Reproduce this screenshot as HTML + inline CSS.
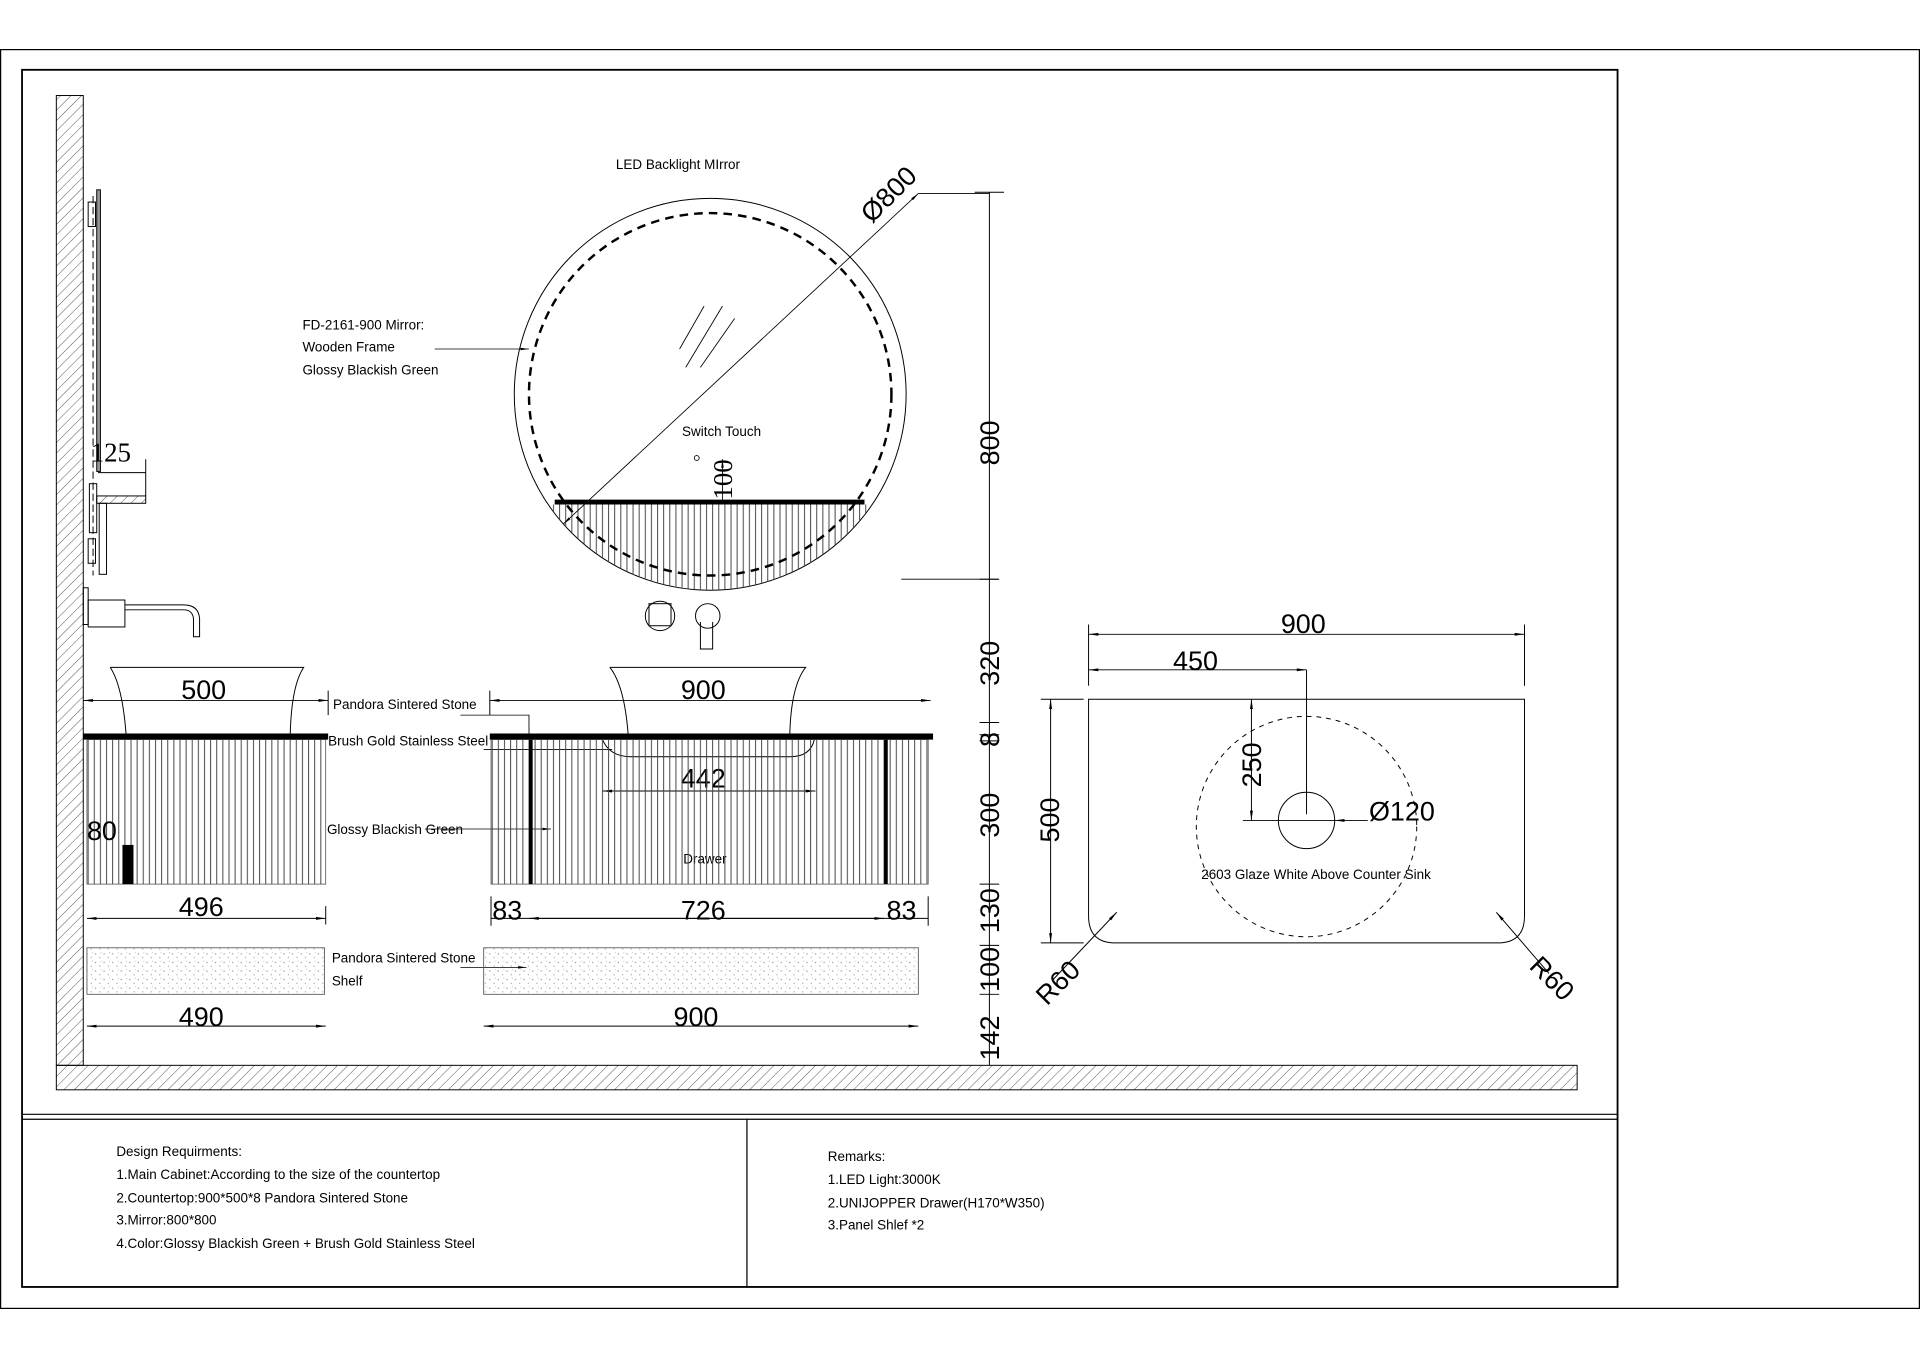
<!DOCTYPE html>
<html><head><meta charset="utf-8"><style>
html,body{margin:0;padding:0;background:#fff;}
svg{display:block;}
text{font-family:"Liberation Sans",sans-serif;fill:#000;}
.s{font-size:11px;}
.d{font-size:22px;}
</style></head><body>
<svg width="1920" height="1358" viewBox="0 0 1568 1109" xmlns="http://www.w3.org/2000/svg">
<defs>
<pattern id="h" width="6" height="6" patternUnits="userSpaceOnUse" patternTransform="rotate(45)"><line x1="0" y1="0" x2="0" y2="6" stroke="#555" stroke-width="0.8"/></pattern>
<pattern id="v" width="5" height="10" patternUnits="userSpaceOnUse"><line x1="2" y1="0" x2="2" y2="10" stroke="#444" stroke-width="0.8"/></pattern>
<pattern id="sp" width="7" height="7" patternUnits="userSpaceOnUse"><circle cx="1" cy="2" r="0.5" fill="#888"/><circle cx="4.5" cy="5" r="0.5" fill="#999"/><circle cx="5.5" cy="1" r="0.4" fill="#aaa"/></pattern>
<marker id="a" markerWidth="10" markerHeight="6" refX="10" refY="3" orient="auto-start-reverse"><path d="M0,1.5 L10,3 L0,4.5z" fill="#000"/></marker>
<clipPath id="cc"><circle cx="580" cy="322" r="160"/></clipPath>
</defs>
<g fill="none" stroke="#000">
<rect x="0.5" y="40.5" width="1567" height="1028" stroke-width="1"/>
<rect x="18" y="57" width="1303" height="994" stroke-width="1.5"/>
<line x1="18" y1="910" x2="1321" y2="910"/><line x1="18" y1="914" x2="1321" y2="914"/>
<line x1="610" y1="914" x2="610" y2="1051"/>
</g>
<!-- wall & floor -->
<rect x="46" y="78" width="22" height="792" fill="url(#h)" stroke="#000" stroke-width="0.8"/>
<rect x="46" y="870" width="1242" height="20" fill="url(#h)" stroke="#000" stroke-width="0.8"/>
<!-- side mirror -->
<g stroke="#000" fill="none" stroke-width="0.8">
<rect x="79" y="155" width="3" height="230" fill="#999"/>
<line x1="76" y1="160" x2="76" y2="470" stroke-dasharray="6 3"/>
<rect x="72" y="165" width="6" height="20"/><rect x="72" y="440" width="6" height="20"/>
<rect x="79" y="405" width="40" height="6" fill="url(#h)"/>
<rect x="81" y="411" width="6" height="58"/>
<rect x="73" y="395" width="6" height="40"/>
<line x1="119" y1="375" x2="119" y2="405"/>
<line x1="80" y1="386" x2="119" y2="386"/>
<rect x="68" y="480" width="4" height="30"/><rect x="72" y="490" width="30" height="22"/>
<path d="M102 494 H150 Q162 494 163 505 V520 H158 V505 Q157 498 150 498 H102"/>
<!-- left basin -->
<path d="M90 545 H248 Q238 560 237 600 M90 545 Q100 560 103 600"/>
<line x1="68" y1="572" x2="268" y2="572" marker-start="url(#a)" marker-end="url(#a)"/>
<line x1="268" y1="564" x2="268" y2="584"/>
</g>
<text x="148" y="571" class="d">500</text>
<text x="74" y="377" class="d" style="font-family:'Liberation Serif',serif">125</text>
<!-- left cabinet -->
<rect x="68" y="599" width="200" height="5" fill="#000"/>
<rect x="71" y="604" width="195" height="118" fill="url(#v)" stroke="#444" stroke-width="0.6"/>
<rect x="100" y="690" width="9" height="32" fill="#000"/>
<text x="71" y="686" class="d">80</text>
<g stroke="#000" stroke-width="0.8">
<line x1="71" y1="750" x2="266" y2="750" marker-start="url(#a)" marker-end="url(#a)"/>
<line x1="266" y1="740" x2="266" y2="755"/>
<line x1="71" y1="838" x2="266" y2="838" marker-start="url(#a)" marker-end="url(#a)"/>
</g>
<text x="146" y="748" class="d">496</text>
<rect x="71" y="774" width="194" height="38" fill="url(#sp)" stroke="#555" stroke-width="0.7"/>
<text x="146" y="838" class="d">490</text>
<!-- labels middle -->
<text x="272" y="579" class="s">Pandora Sintered Stone</text>
<text x="268" y="609" class="s">Brush Gold Stainless Steel</text>
<text x="267" y="681" class="s">Glossy Blackish Green</text>
<text x="271" y="786" class="s">Pandora Sintered Stone</text>
<text x="271" y="805" class="s">Shelf</text>
<text x="247" y="269" class="s">FD-2161-900 Mirror:</text>
<text x="247" y="287" class="s">Wooden Frame</text>
<text x="247" y="306" class="s">Glossy Blackish Green</text>
<text x="503" y="138" class="s">LED Backlight MIrror</text>
<text x="557" y="356" class="s">Switch Touch</text>
<text x="558" y="705" class="s">Drawer</text>
<g stroke="#000" stroke-width="0.7" fill="none">
<polyline points="376,584 432,584 432,600"/>
<line x1="347" y1="677" x2="450" y2="677" marker-end="url(#a)"/>
<line x1="355" y1="285" x2="432" y2="285" marker-end="url(#a)"/>
<line x1="376" y1="790" x2="430" y2="790" marker-end="url(#a)"/>
<line x1="395" y1="612" x2="500" y2="612"/>
</g>
<!-- mirror -->
<g fill="none" stroke="#000">
<circle cx="580" cy="322" r="160" stroke-width="0.8"/>
<g clip-path="url(#cc)"><rect x="420" y="412" width="320" height="80" fill="url(#v)" stroke="none"/></g>
<circle cx="580" cy="322" r="148" stroke-width="2" stroke-dasharray="7 5"/>
<line x1="453" y1="410" x2="706" y2="410" stroke-width="4"/>
<line x1="460" y1="428" x2="750" y2="158" stroke-width="0.7" marker-start="url(#a)" marker-end="url(#a)"/>
<line x1="750" y1="158" x2="808" y2="158" stroke-width="0.7"/>
<line x1="555" y1="285" x2="575" y2="250" stroke-width="0.7"/><line x1="560" y1="300" x2="590" y2="250" stroke-width="0.7"/><line x1="572" y1="300" x2="600" y2="260" stroke-width="0.7"/>
<line x1="590" y1="375" x2="590" y2="410" stroke-width="0.7" marker-start="url(#a)"/>
<circle cx="569" cy="374" r="2" stroke-width="0.7"/>
<line x1="736" y1="473" x2="815" y2="473" stroke-width="0.7"/>
</g>
<text x="0" y="0" class="d" transform="translate(712,183) rotate(-45)">Ø800</text>
<text x="0" y="0" class="d" style="font-family:'Liberation Serif',serif" transform="translate(598,408) rotate(-90)">100</text>
<!-- faucet middle -->
<g fill="none" stroke="#000" stroke-width="0.8">
<circle cx="539" cy="503" r="12"/><rect x="530" y="493" width="18" height="18"/>
<circle cx="578" cy="503" r="10"/><path d="M572 508 V530 H582 V508"/>
<path d="M498 545 H658 Q646 560 645 600 M498 545 Q510 560 513 600"/>
<path d="M492 604 Q498 618 515 618 H645 Q662 618 665 604"/>
<line x1="400" y1="572" x2="760" y2="572" marker-start="url(#a)" marker-end="url(#a)"/>
<line x1="400" y1="564" x2="400" y2="584"/>
<line x1="492" y1="646" x2="666" y2="646" marker-start="url(#a)" marker-end="url(#a)"/>
</g>
<text x="556" y="571" class="d">900</text>
<text x="556" y="643" class="d">442</text>
<rect x="400" y="599" width="362" height="5" fill="#000"/>
<rect x="401" y="604" width="357" height="118" fill="url(#v)" stroke="#444" stroke-width="0.6"/>
<rect x="432" y="604" width="3" height="118" fill="#000"/><rect x="722" y="604" width="3" height="118" fill="#000"/>
<g stroke="#000" stroke-width="0.8">
<line x1="401" y1="750" x2="758" y2="750"/>
<line x1="432" y1="750" x2="722" y2="750" marker-start="url(#a)" marker-end="url(#a)"/>
<line x1="401" y1="732" x2="401" y2="756"/><line x1="758" y1="732" x2="758" y2="756"/>
<line x1="395" y1="838" x2="750" y2="838" marker-start="url(#a)" marker-end="url(#a)"/>
</g>
<text x="402" y="751" class="d">83</text><text x="556" y="751" class="d">726</text><text x="724" y="751" class="d">83</text>
<rect x="395" y="774" width="355" height="38" fill="url(#sp)" stroke="#555" stroke-width="0.7"/>
<text x="550" y="838" class="d">900</text>
<!-- vertical dims -->
<g stroke="#000" stroke-width="0.8">
<line x1="808" y1="157" x2="808" y2="870"/>
<g><line x1="796" y1="157" x2="820" y2="157"/><line x1="800" y1="473" x2="816" y2="473"/><line x1="800" y1="590" x2="816" y2="590"/><line x1="800" y1="600" x2="816" y2="600"/><line x1="800" y1="605" x2="816" y2="605"/><line x1="800" y1="722" x2="816" y2="722"/><line x1="800" y1="772" x2="816" y2="772"/><line x1="800" y1="812" x2="816" y2="812"/></g>
</g>
<g class="d">
<text class="d" transform="translate(816,380) rotate(-90)">800</text>
<text class="d" transform="translate(816,560) rotate(-90)">320</text>
<text class="d" transform="translate(816,610) rotate(-90)">8</text>
<text class="d" transform="translate(816,684) rotate(-90)">300</text>
<text class="d" transform="translate(816,762) rotate(-90)">130</text>
<text class="d" transform="translate(816,810) rotate(-90)">100</text>
<text class="d" transform="translate(816,866) rotate(-90)">142</text>
</g>
<!-- plan view -->
<g fill="none" stroke="#000" stroke-width="0.8">
<path d="M889 571 H1245 V748 Q1245 770 1223 770 H911 Q889 770 889 748 Z"/>
<circle cx="1067" cy="675" r="90" stroke-dasharray="4 4"/>
<circle cx="1067" cy="670" r="23"/>
<line x1="889" y1="518" x2="1245" y2="518" marker-start="url(#a)" marker-end="url(#a)"/>
<line x1="889" y1="510" x2="889" y2="560"/><line x1="1245" y1="510" x2="1245" y2="560"/>
<line x1="889" y1="547" x2="1067" y2="547" marker-start="url(#a)" marker-end="url(#a)"/>
<line x1="1067" y1="547" x2="1067" y2="665"/>
<line x1="858" y1="571" x2="858" y2="770" marker-start="url(#a)" marker-end="url(#a)"/>
<line x1="850" y1="571" x2="885" y2="571"/><line x1="850" y1="770" x2="885" y2="770"/>
<line x1="1022" y1="571" x2="1022" y2="670" marker-start="url(#a)" marker-end="url(#a)"/>
<line x1="1015" y1="670" x2="1090" y2="670"/>
<line x1="1090" y1="670" x2="1117" y2="670" marker-start="url(#a)"/>
<line x1="860" y1="800" x2="912" y2="745" marker-end="url(#a)"/>
<line x1="1265" y1="795" x2="1222" y2="745" marker-end="url(#a)"/>
</g>
<text x="1046" y="517" class="d">900</text>
<text x="958" y="547" class="d">450</text>
<text class="d" transform="translate(865,688) rotate(-90)">500</text>
<text class="d" transform="translate(1030,643) rotate(-90)">250</text>
<text x="1118" y="670" class="d">Ø120</text>
<text x="981" y="718" class="s">2603 Glaze White Above Counter Sink</text>
<text class="d" transform="translate(855,822) rotate(-45)">R60</text>
<text class="d" transform="translate(1248,790) rotate(45)">R60</text>
<!-- notes -->
<g class="s">
<text x="95" y="944" class="s">Design Requirments:</text>
<text x="95" y="963" class="s">1.Main Cabinet:According to the size of the countertop</text>
<text x="95" y="982" class="s">2.Countertop:900*500*8 Pandora Sintered Stone</text>
<text x="95" y="1000" class="s">3.Mirror:800*800</text>
<text x="95" y="1019" class="s">4.Color:Glossy Blackish Green + Brush Gold Stainless Steel</text>
<text x="676" y="948" class="s">Remarks:</text>
<text x="676" y="967" class="s">1.LED Light:3000K</text>
<text x="676" y="986" class="s">2.UNIJOPPER Drawer(H170*W350)</text>
<text x="676" y="1004" class="s">3.Panel Shlef *2</text>
</g>
</svg>
</body></html>
